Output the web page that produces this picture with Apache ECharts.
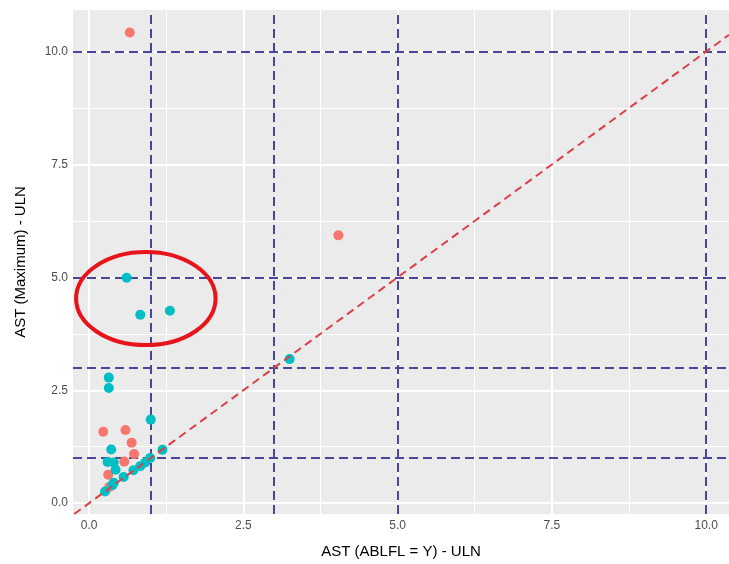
<!DOCTYPE html>
<html>
<head>
<meta charset="utf-8">
<script src="https://cdn.jsdelivr.net/npm/echarts@6/dist/echarts.min.js"></script>
<style>
html,body{margin:0;padding:0;background:#fff;}
#c{width:729px;height:564px;}
</style>
</head>
<body>
<div id="c"></div>
<script>
// Data
var redPoints = [[0.66,10.42],[4.04,5.93],[0.23,1.58],[0.59,1.62],[0.69,1.34],[0.73,1.09],[0.57,0.92],[0.31,0.63],[0.33,0.36]];
var tealPoints = [[0.61,4.99],[0.83,4.17],[1.31,4.26],[3.25,3.19],[0.32,2.78],[0.32,2.55],[1.0,1.85],[0.36,1.19],[1.19,1.18],[0.30,0.91],[0.40,0.90],[0.43,0.74],[0.40,0.45],[0.26,0.26],[0.56,0.58],[0.72,0.73],[0.83,0.82],[0.91,0.90],[0.99,1.0],[0.38,0.40]];
var majorTicks = [0, 2.5, 5, 7.5, 10];
var minorTicks = [1.25, 3.75, 6.25, 8.75];
var refLines = [1, 3, 5, 10];
var xRange = [-0.26, 10.37];
var yRange = [-0.24, 10.92];
var ellipseData = {cx: 0.92, cy: 4.53, rx: 1.13, ry: 1.03};

var chart = echarts.init(document.getElementById('c'));
function fmt(v){ return v.toFixed(1); }

function gridLines(vals, width){
  var d = [];
  vals.forEach(function(v){ d.push({xAxis: v}); d.push({yAxis: v}); });
  return {
    type: 'line', data: [], silent: true, z: 1,
    markLine: {
      silent: true, symbol: 'none', label: {show: false}, z: 1,
      lineStyle: {color: '#ffffff', width: width, type: 'solid', opacity: 1},
      emphasis: {disabled: true},
      animation: false,
      data: d
    }
  };
}

var refData = [];
refLines.forEach(function(v){ refData.push({xAxis: v}); refData.push({yAxis: v}); });

var option = {
  animation: false,
  grid: {left: 73, right: 0, top: 10, bottom: 46, show: true, backgroundColor: '#ebebeb', borderWidth: 0},
  xAxis: {
    type: 'value', min: xRange[0], max: xRange[1],
    name: 'AST (ABLFL = Y) - ULN', nameLocation: 'middle', nameGap: 30,
    nameTextStyle: {color: '#000', fontSize: 15, fontFamily: 'Liberation Sans'},
    axisLine: {show: false},
    axisTick: {show: true, length: 3, lineStyle: {color: '#333', width: 1}, customValues: majorTicks},
    axisLabel: {customValues: majorTicks, formatter: fmt, color: '#4d4d4d', fontSize: 12, fontFamily: 'Liberation Sans', margin: 6},
    splitLine: {show: false}
  },
  yAxis: {
    type: 'value', min: yRange[0], max: yRange[1],
    name: 'AST (Maximum) - ULN', nameLocation: 'middle', nameGap: 45,
    nameTextStyle: {color: '#000', fontSize: 15, fontFamily: 'Liberation Sans'},
    axisLine: {show: false},
    axisTick: {show: true, length: 3, lineStyle: {color: '#333', width: 1}, customValues: majorTicks},
    axisLabel: {customValues: majorTicks, formatter: fmt, color: '#4d4d4d', fontSize: 12, fontFamily: 'Liberation Sans', margin: 5},
    splitLine: {show: false}
  },
  series: [
    gridLines(minorTicks, 1),
    gridLines(majorTicks, 2),
    {
      type: 'line', data: [], silent: true, z: 2,
      markLine: {
        silent: true, symbol: 'none', label: {show: false}, animation: false, z: 2,
        lineStyle: {color: '#46469a', width: 2, type: [9, 5], opacity: 1},
        data: refData
      }
    },
    {
      type: 'scatter', data: redPoints, symbolSize: 10, z: 3,
      itemStyle: {color: '#F8766D', opacity: 1}
    },
    {
      type: 'scatter', data: tealPoints, symbolSize: 10, z: 3,
      itemStyle: {color: '#00BFC4', opacity: 1}
    },
    {
      type: 'line', data: [], silent: true, z: 4,
      markLine: {
        silent: true, symbol: 'none', label: {show: false}, animation: false, z: 4,
        lineStyle: {color: '#d9404a', width: 2, type: [8, 5], opacity: 1},
        data: [[{coord: [yRange[0], yRange[0]]}, {coord: [xRange[1], xRange[1]]}]]
      }
    }
  ]
};
chart.setOption(option);

var c = chart.convertToPixel({gridIndex: 0}, [ellipseData.cx, ellipseData.cy]);
var e = chart.convertToPixel({gridIndex: 0}, [ellipseData.cx + ellipseData.rx, ellipseData.cy + ellipseData.ry]);
chart.setOption({
  graphic: [{
    type: 'ellipse', z: 100,
    shape: {cx: c[0], cy: c[1], rx: Math.abs(e[0] - c[0]), ry: Math.abs(c[1] - e[1])},
    style: {fill: 'none', stroke: '#e8141c', lineWidth: 4}
  }]
});
</script>
</body>
</html>
